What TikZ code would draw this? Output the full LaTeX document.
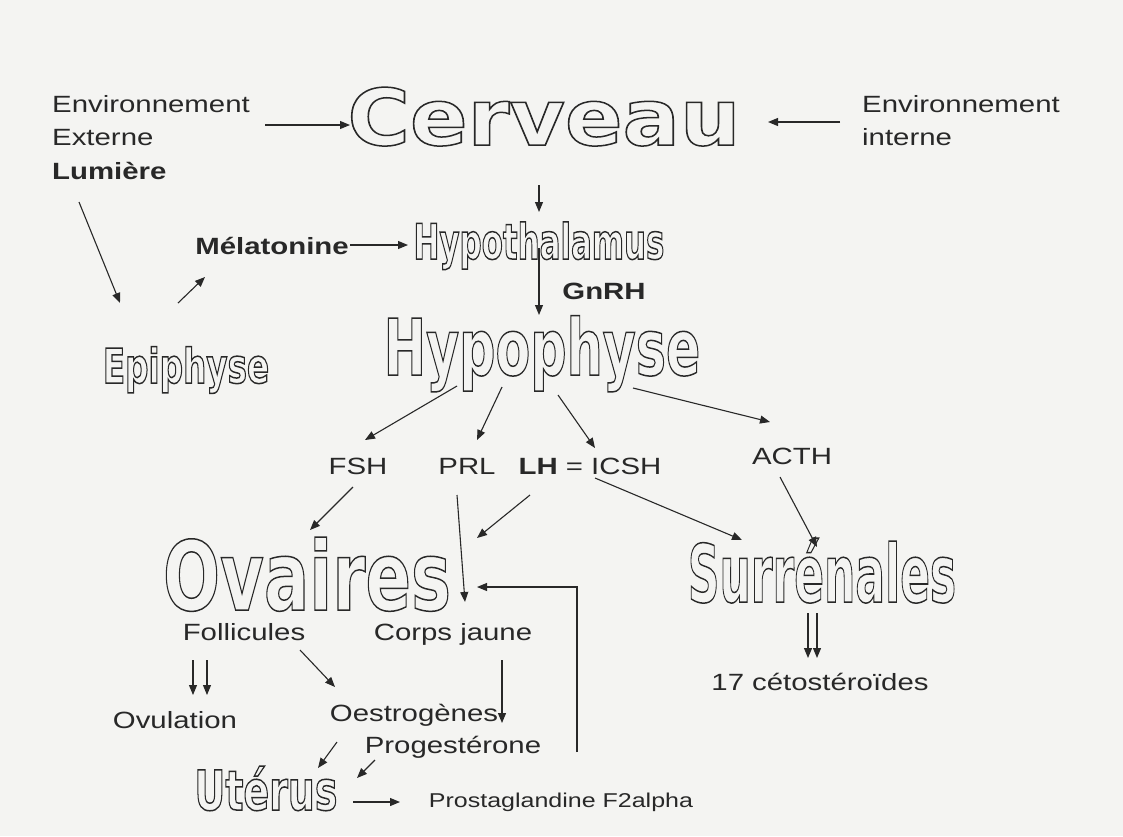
\documentclass[tikz,border=0pt]{standalone}
\usepackage{fontspec}
\usepackage{graphicx}
\setmainfont{Liberation Sans}[FakeStretch=1.25]
\newfontfamily\organfont{DejaVu Sans}
\usetikzlibrary{arrows.meta}
\definecolor{paper}{RGB}{244,244,242}
\definecolor{ink}{RGB}{40,40,40}
\tikzstyle{arrow} = [line width=1.1pt, draw=ink, -{Triangle[length=10pt,width=8pt]}]
\tikzstyle{tLabel} = [inner sep=0pt, text=ink, anchor=base, font=\fontsize{23.5}{33.5}\selectfont]
\tikzstyle{tOrgan} = [inner sep=0pt, text=ink, anchor=base]
% hollow (stroked only) lettering: x-scale, size, text
\newcommand{\hollow}[3]{\scalebox{#1}[1]{\fontsize{#2}{#2}\selectfont\organfont\bfseries\special{pdf:literal direct 1 Tr 1.5 w}#3\special{pdf:literal direct 0 Tr}}}

\begin{document}
\begin{tikzpicture}[x=1pt,y=-1pt]
    \fill[paper] (0,0) rectangle (1123,836);
    % top: brain and its inputs
    \node[tLabel, anchor=north west, align=left] (EnvExt) at (52,95) {Environnement\\Externe\\\textbf{Lumière}};
    \node[tLabel, anchor=north west, align=left] (EnvInt) at (862,95) {Environnement\\interne};
    \node[tOrgan] (Cerveau) at (544,145) {\hollow{1.09}{78}{Cerveau}};
    \node[tOrgan] (Hypothalamus) at (539,259) {\hollow{0.63}{49}{Hypothalamus}};
    \node[tLabel] (Melatonine) at (272,254) {\textbf{Mélatonine}};
    \node[tLabel] (GnRH) at (604,299) {\textbf{GnRH}};
    \node[tOrgan] (Hypophyse) at (542,375) {\hollow{0.65}{78}{Hypophyse}};
    \node[tOrgan] (Epiphyse) at (186,383) {\hollow{0.68}{48}{Epiphyse}};
    % hormones
    \node[tLabel] (FSH) at (358,474) {FSH};
    \node[tLabel] (PRL) at (467,474) {PRL};
    \node[tLabel] (LH) at (590,474) {\textbf{LH} = ICSH};
    \node[tLabel] (ACTH) at (792,464) {ACTH};
    % targets
    \node[tOrgan] (Ovaires) at (307,610) {\hollow{0.70}{96}{Ovaires}};
    \node[tOrgan] (Surrenales) at (822,602) {\hollow{0.55}{80}{Surrénales}};
    \node[tLabel] (Follicules) at (244,640) {Follicules};
    \node[tLabel] (CorpsJaune) at (453,640) {Corps jaune};
    \node[tLabel] (Ovulation) at (175,728) {Ovulation};
    \node[tLabel] (Oestrogenes) at (414,721) {Oestrogènes};
    \node[tLabel] (Progesterone) at (453,753) {Progestérone};
    \node[tOrgan] (Uterus) at (266,810) {\hollow{0.69}{55}{Utérus}};
    \node[tLabel, font=\fontsize{20}{24}\selectfont] (Prosta) at (561,807) {Prostaglandine F2alpha};
    \node[tLabel] (Ceto) at (820,690) {17 cétostéroïdes};

    \draw[arrow] ([shift={(213,30)}]EnvExt.north west) -- ([shift={(-194,-20)}]Cerveau.base);
    \draw[arrow] ([shift={(-22,27)}]EnvInt.north west) -- ([shift={(224,-23)}]Cerveau.base);
    \draw[arrow] ([shift={(-5,40)}]Cerveau.base) -- ([shift={(0,-47)}]Hypothalamus.base);
    \draw[arrow] ([shift={(78,-9)}]Melatonine.base) -- ([shift={(-131,-14)}]Hypothalamus.base);
    \draw[arrow] ([shift={(0,-11)}]Hypothalamus.base) -- ([shift={(-3,-60)}]Hypophyse.base);
    \draw[arrow] ([shift={(27,107)}]EnvExt.north west) -- ([shift={(-66,-80)}]Epiphyse.base);
    \draw[arrow] ([shift={(-8,-80)}]Epiphyse.base) -- ([shift={(-67,23)}]Melatonine.base);
    \draw[arrow] ([shift={(-85,11)}]Hypophyse.base) -- ([shift={(7,-34)}]FSH.base);
    \draw[arrow] ([shift={(-40,12)}]Hypophyse.base) -- ([shift={(10,-34)}]PRL.base);
    \draw[arrow] ([shift={(16,20)}]Hypophyse.base) -- ([shift={(5,-26)}]LH.base);
    \draw[arrow] ([shift={(91,13)}]Hypophyse.base) -- ([shift={(-22,-42)}]ACTH.base);
    \draw[arrow] ([shift={(-5,13)}]FSH.base) -- ([shift={(3,-80)}]Ovaires.base);
    \draw[arrow] ([shift={(-10,21)}]PRL.base) -- ([shift={(12,-38)}]CorpsJaune.base);
    \draw[arrow] ([shift={(-60,21)}]LH.base) -- ([shift={(170,-72)}]Ovaires.base);
    \draw[arrow] ([shift={(5,4)}]LH.base) -- ([shift={(-80,-62)}]Surrenales.base);
    \draw[arrow] ([shift={(-12,13)}]ACTH.base) -- ([shift={(-5,-55)}]Surrenales.base);
    % feedback to the ovary
    \draw[arrow] ([shift={(16,-55)}]Prosta.base) |- ([shift={(170,-23)}]Ovaires.base);
    \draw[arrow] ([shift={(-51,20)}]Follicules.base) -- ([shift={(18,-33)}]Ovulation.base);
    \draw[arrow] ([shift={(-37,20)}]Follicules.base) -- ([shift={(32,-33)}]Ovulation.base);
    \draw[arrow] ([shift={(56,10)}]Follicules.base) -- ([shift={(-79,-34)}]Oestrogenes.base);
    \draw[arrow] ([shift={(49,20)}]CorpsJaune.base) -- ([shift={(49,-30)}]Progesterone.base);
    \draw[arrow] ([shift={(-77,21)}]Oestrogenes.base) -- ([shift={(52,-42)}]Uterus.base);
    \draw[arrow] ([shift={(-78,7)}]Progesterone.base) -- ([shift={(91,-32)}]Uterus.base);
    \draw[arrow] ([shift={(87,-8)}]Uterus.base) -- ([shift={(-161,-5)}]Prosta.base);
    \draw[arrow] ([shift={(-14,11)}]Surrenales.base) -- ([shift={(-12,-32)}]Ceto.base);
    \draw[arrow] ([shift={(-5,11)}]Surrenales.base) -- ([shift={(-3,-32)}]Ceto.base);
\end{tikzpicture}
\end{document}
